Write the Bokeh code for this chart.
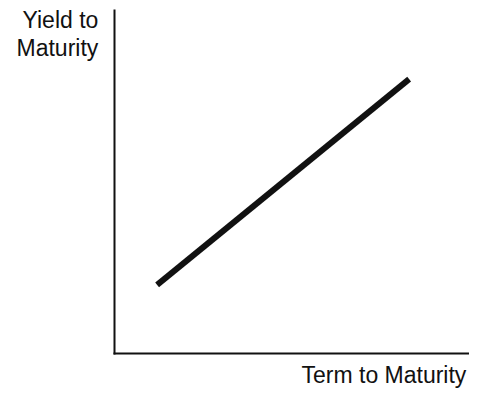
from bokeh.plotting import figure
from bokeh.models import Range1d
from bokeh.core.properties import value
from bokeh.embed import file_html
from bokeh.resources import INLINE

# Data (conceptual upward-sloping yield curve)
term = [1.2, 8.3]
yield_vals = [2.0, 8.0]
x_title = "Term to Maturity"
y_title_lines = ["Yield to", "Maturity"]

# axis extents in data units (axes run from 0 to these values)
X_MAX = 10.0
Y_MAX = 10.0

W, H = 469, 388
left_px, bottom_px, top_px = 114, 35, 10
px_x = (W - left_px) / X_MAX          # pixels per x unit
px_y = (H - bottom_px - top_px) / Y_MAX  # pixels per y unit

p = figure(width=W, height=H, output_backend="svg", toolbar_location=None, tools="",
           x_axis_location=None, y_axis_location=None,
           x_range=Range1d(-left_px / px_x, X_MAX),
           y_range=Range1d(-bottom_px / px_y, Y_MAX + top_px / px_y),
           min_border=0)
p.outline_line_color = None
p.grid.visible = False
p.background_fill_color = "white"
p.border_fill_color = "white"

ink = "#111111"
# axes
p.segment(x0=[0, 0], y0=[0, 0], x1=[0, X_MAX], y1=[Y_MAX, 0],
          line_width=2, line_color=ink, line_cap="square")

# the curve
p.line(term, yield_vals, line_width=6, line_color=ink, line_cap="butt")

font = value("Liberation Sans")
fs = value("23px")
p.text(x=[0, 0], y=[Y_MAX, Y_MAX], text=y_title_lines,
       x_offset=[-92, -98], y_offset=[9.5, 37.5],
       text_align="left", text_baseline="alphabetic",
       text_font=font, text_font_size=fs, text_color=ink)
p.text(x=[X_MAX], y=[0], text=[x_title], x_offset=-168, y_offset=21.5,
       text_align="left", text_baseline="alphabetic",
       text_font=font, text_font_size=fs, text_color=ink)

open("out.html", "w").write(file_html(p, INLINE))
